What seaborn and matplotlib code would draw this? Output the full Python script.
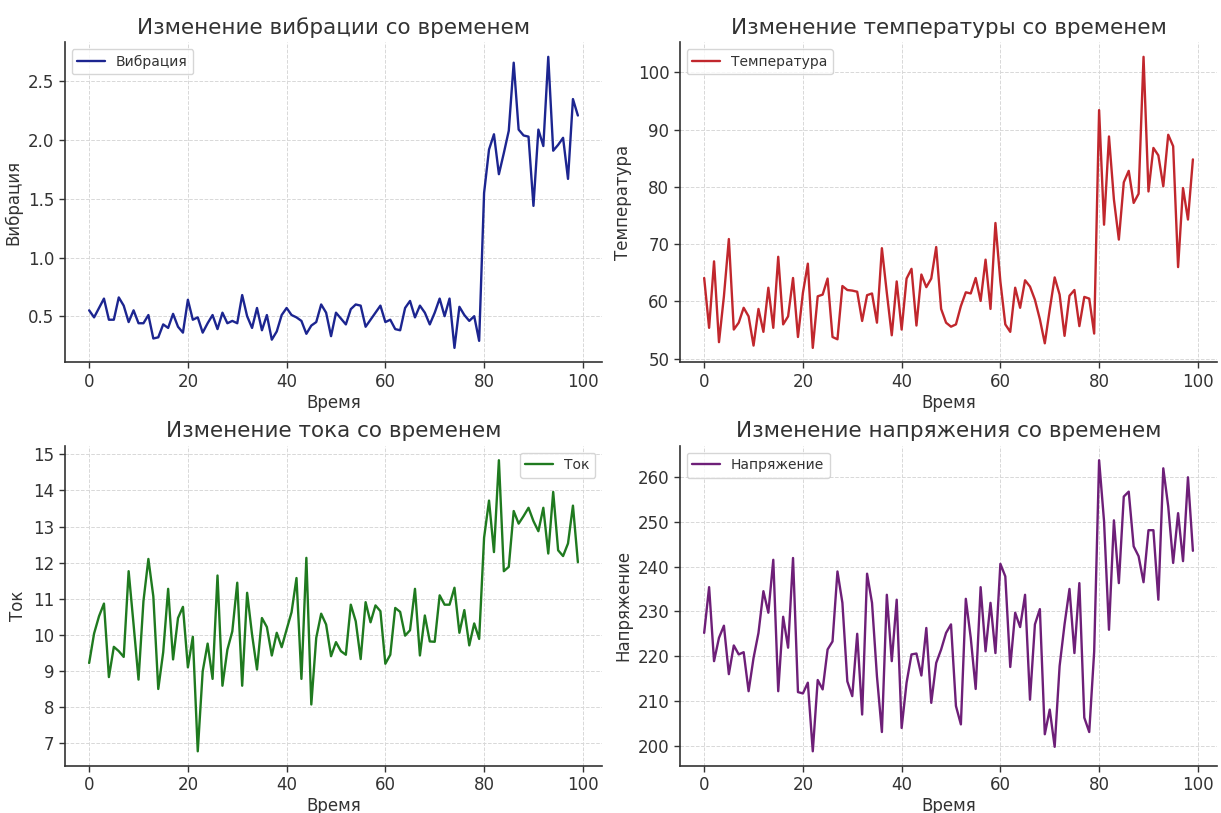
# Изменение параметров оборудования со временем: 4 панели
import matplotlib
matplotlib.use("Agg")
import matplotlib.pyplot as plt
import pandas as pd
import seaborn as sns

time = list(range(100))

vibration = [
    0.55, 0.49, 0.57, 0.65, 0.47, 0.47, 0.66, 0.59, 0.45, 0.55,
    0.44, 0.44, 0.51, 0.31, 0.32, 0.43, 0.40, 0.52, 0.41, 0.36,
    0.64, 0.47, 0.49, 0.36, 0.44, 0.51, 0.39, 0.53, 0.44, 0.46,
    0.44, 0.68, 0.50, 0.40, 0.57, 0.38, 0.51, 0.30, 0.37, 0.51,
    0.57, 0.51, 0.49, 0.46, 0.35, 0.42, 0.45, 0.60, 0.53, 0.33,
    0.53, 0.48, 0.43, 0.56, 0.60, 0.59, 0.41, 0.47, 0.53, 0.59,
    0.45, 0.47, 0.39, 0.38, 0.57, 0.63, 0.49, 0.59, 0.53, 0.43,
    0.53, 0.65, 0.50, 0.65, 0.23, 0.58, 0.51, 0.46, 0.50, 0.29,
    1.55, 1.92, 2.05, 1.71, 1.89, 2.08, 2.66, 2.09, 2.04, 2.03,
    1.44, 2.09, 1.95, 2.71, 1.91, 1.96, 2.02, 1.67, 2.35, 2.21,
]

temperature = [
    64.1, 55.4, 67.0, 52.9, 60.9, 70.9, 55.1, 56.3, 58.9, 57.4,
    52.3, 58.7, 54.7, 62.4, 55.4, 67.8, 56.0, 57.4, 64.1, 53.8,
    61.5, 66.6, 51.9, 60.9, 61.2, 64.0, 53.8, 53.4, 62.7, 62.0,
    61.9, 61.7, 56.6, 61.1, 61.4, 56.3, 69.3, 61.5, 54.1, 63.5,
    55.1, 64.0, 65.7, 55.8, 64.7, 62.5, 64.0, 69.5, 58.7, 56.3,
    55.6, 56.0, 59.2, 61.6, 61.4, 64.1, 60.1, 67.3, 58.7, 73.7,
    63.5, 56.0, 54.7, 62.4, 58.9, 63.7, 62.6, 60.3, 56.9, 52.7,
    58.6, 64.2, 61.2, 54.0, 61.0, 62.0, 55.7, 60.8, 60.5, 54.4,
    93.4, 73.4, 88.8, 77.8, 70.8, 80.8, 82.8, 77.2, 78.8, 102.7,
    79.2, 86.8, 85.5, 80.1, 89.1, 87.1, 66.0, 79.8, 74.3, 84.8,
]

current = [
    9.21, 10.03, 10.51, 10.86, 8.82, 9.66, 9.54, 9.38, 11.76, 10.28,
    8.75, 10.93, 12.10, 11.06, 8.49, 9.51, 11.27, 9.31, 10.46, 10.77,
    9.09, 9.94, 6.76, 8.98, 9.75, 8.77, 11.64, 8.58, 9.58, 10.09,
    11.44, 8.58, 11.16, 10.00, 9.03, 10.46, 10.21, 9.42, 10.05, 9.65,
    10.14, 10.62, 11.57, 8.77, 12.13, 8.06, 9.91, 10.58, 10.28, 9.40,
    9.79, 9.54, 9.44, 10.83, 10.37, 9.32, 10.90, 10.34, 10.81, 10.65,
    9.19, 9.44, 10.74, 10.63, 9.97, 10.12, 11.27, 9.42, 10.53, 9.81,
    9.80, 11.09, 10.83, 10.83, 11.30, 10.05, 10.68, 9.70, 10.31, 9.88,
    12.69, 13.72, 12.29, 14.84, 11.76, 11.88, 13.43, 13.08, 13.29, 13.52,
    13.15, 12.87, 13.52, 12.25, 13.96, 12.34, 12.18, 12.53, 13.58, 12.01,
]

voltage = [
    225.2, 235.4, 218.9, 224.1, 226.8, 216.0, 222.4, 220.4, 220.9, 212.2,
    219.6, 225.2, 234.5, 229.7, 241.5, 212.2, 228.8, 221.9, 241.9, 212.0,
    211.7, 214.1, 198.8, 214.7, 212.6, 221.5, 223.3, 238.9, 231.9, 214.4,
    211.1, 225.0, 207.0, 238.4, 231.9, 215.5, 203.1, 233.7, 218.9, 232.6,
    204.0, 214.1, 220.4, 220.6, 215.7, 226.3, 209.6, 218.5, 221.5, 225.2,
    227.1, 208.9, 204.8, 232.8, 224.1, 212.7, 235.4, 221.1, 231.9, 220.7,
    240.6, 237.8, 217.6, 229.7, 226.5, 233.7, 210.3, 227.1, 230.5, 202.6,
    208.1, 199.8, 217.8, 227.1, 235.0, 220.7, 236.3, 206.3, 203.1, 221.0,
    263.7, 250.1, 225.9, 250.3, 236.3, 255.6, 256.7, 244.5, 242.3, 236.5,
    248.1, 248.1, 232.6, 261.9, 253.4, 240.8, 251.9, 241.2, 259.9, 243.5,
]

names = ["Вибрация", "Температура", "Ток", "Напряжение"]
titles = [
    "Изменение вибрации со временем",
    "Изменение температуры со временем",
    "Изменение тока со временем",
    "Изменение напряжения со временем",
]
colors = ["#1c2590", "#c1272d", "#1f7a1f", "#6e1f78"]
legend_loc = ["upper left", "upper left", "upper right", "upper left"]

df = pd.DataFrame({"Время": time, "Вибрация": vibration, "Температура": temperature,
                   "Ток": current, "Напряжение": voltage})

sns.set_style("whitegrid", {"grid.linestyle": "--", "grid.color": "#d8d8d8",
                            "axes.edgecolor": "#333333", "text.color": "#333333",
                            "axes.labelcolor": "#333333", "xtick.color": "#333333",
                            "ytick.color": "#333333"})
plt.rcParams["font.family"] = ["DejaVu Sans"]

fig, axes = plt.subplots(2, 2, figsize=(12.21, 8.13), dpi=100)
for ax, name, title, color, loc in zip(axes.flat, names, titles, colors, legend_loc):
    sns.lineplot(data=df, x="Время", y=name, ax=ax, color=color, linewidth=1.7, label=name)
    ax.set_title(title, fontsize=15.5, color="#333333")
    ax.set_xlabel("Время", fontsize=12, labelpad=2)
    ax.set_ylabel(name, fontsize=12)
    ax.tick_params(labelsize=12, length=4, width=1, left=True, bottom=True)
    ax.grid(True, linestyle="--", linewidth=0.7, color="#d8d8d8")
    ax.set_xticks([0, 20, 40, 60, 80, 100])
    sns.despine(ax=ax)
    ax.spines["left"].set_linewidth(1.2)
    ax.spines["bottom"].set_linewidth(1.2)
    ax.legend(loc=loc, fontsize=10, frameon=True)

plt.subplots_adjust(left=0.053, right=0.997, top=0.948, bottom=0.058,
                    wspace=0.144, hspace=0.26)
plt.savefig("out.png", dpi=100)
